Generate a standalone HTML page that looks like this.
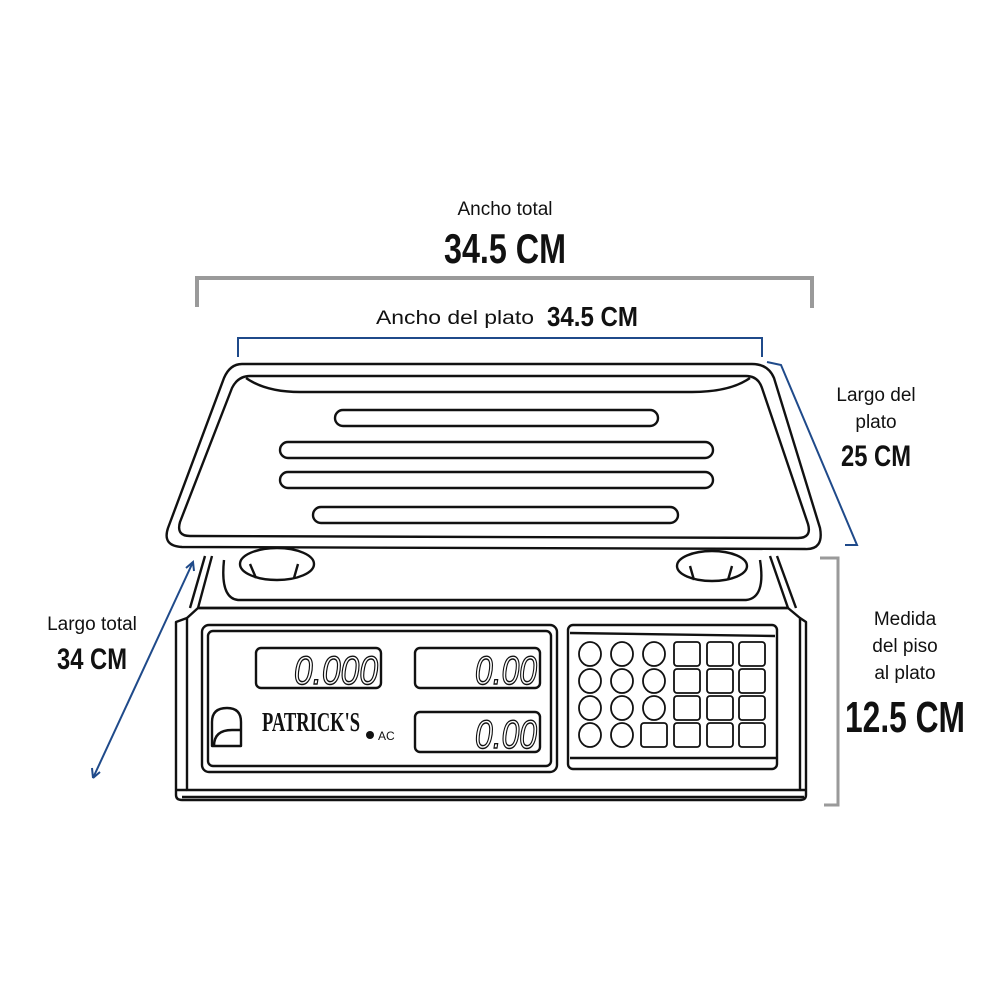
<!DOCTYPE html>
<html><head><meta charset="utf-8"><style>
html,body{margin:0;padding:0;background:#fff;width:1000px;height:1000px;overflow:hidden}
svg{display:block}
.t{font-family:"Liberation Sans",sans-serif;fill:#111}
.b{font-family:"Liberation Sans Narrow","Liberation Sans",sans-serif;font-weight:bold;fill:#111}
.lcd{font-family:"Liberation Sans Narrow","Liberation Sans",sans-serif;font-style:italic;fill:none;stroke:#111;stroke-width:1.4}
</style></head><body>
<svg width="1000" height="1000" viewBox="0 0 1000 1000" xmlns="http://www.w3.org/2000/svg">
<g fill="none" stroke="#111" stroke-width="2.4" stroke-linejoin="round">
<path d="M212,556 L198,608 L788,608 L770,556"/>
<path d="M205,556 L190,608"/>
<path d="M777,556 L796,608"/>
<path d="M224,560 Q220,598 238,600 L746,600 Q766,598 760,560"/>
<ellipse cx="277" cy="564" rx="37" ry="16"/>
<path d="M250,564 L256,578 M298,564 L294,578"/>
<ellipse cx="712" cy="566" rx="35" ry="15"/>
<path d="M690,566 L694,580 M732,566 L728,580"/>
<path d="M198,608 L187,618 L187,790 L800,790 L800,618 L788,608 Z"/>
<path d="M187,618 L176,622 L176,795 Q176,800 182,800 L800,800 Q806,800 806,795 L806,622 L800,618"/>
<path d="M176,790 L187,790 M800,790 L806,790"/>
<path d="M182,797 L804,797"/>
<rect x="202" y="625" width="355" height="147" rx="7"/>
<rect x="208" y="631" width="343" height="135" rx="5"/>
<rect x="256" y="648" width="125" height="40" rx="5"/>
<rect x="415" y="648" width="125" height="40" rx="5"/>
<rect x="415" y="712" width="125" height="40" rx="5"/>
<path d="M212,746 L212,722 Q212,708 227,708 Q241,708 241,722 L241,746 Z"/>
<path d="M214,746 Q214,730 232,730 L241,730"/>
<rect x="568" y="625" width="209" height="144" rx="5"/>
<path d="M570,633 L775,636 M570,758 L777,758"/>
<g stroke-width="1.8">
<ellipse cx="590" cy="654" rx="11" ry="12"/><ellipse cx="622" cy="654" rx="11" ry="12"/><ellipse cx="654" cy="654" rx="11" ry="12"/>
<ellipse cx="590" cy="681" rx="11" ry="12"/><ellipse cx="622" cy="681" rx="11" ry="12"/><ellipse cx="654" cy="681" rx="11" ry="12"/>
<ellipse cx="590" cy="708" rx="11" ry="12"/><ellipse cx="622" cy="708" rx="11" ry="12"/><ellipse cx="654" cy="708" rx="11" ry="12"/>
<ellipse cx="590" cy="735" rx="11" ry="12"/><ellipse cx="622" cy="735" rx="11" ry="12"/>
<rect x="674" y="642" width="26" height="24" rx="3"/><rect x="707" y="642" width="26" height="24" rx="3"/><rect x="739" y="642" width="26" height="24" rx="3"/>
<rect x="674" y="669" width="26" height="24" rx="3"/><rect x="707" y="669" width="26" height="24" rx="3"/><rect x="739" y="669" width="26" height="24" rx="3"/>
<rect x="674" y="696" width="26" height="24" rx="3"/><rect x="707" y="696" width="26" height="24" rx="3"/><rect x="739" y="696" width="26" height="24" rx="3"/>
<rect x="641" y="723" width="26" height="24" rx="3"/><rect x="674" y="723" width="26" height="24" rx="3"/><rect x="707" y="723" width="26" height="24" rx="3"/><rect x="739" y="723" width="26" height="24" rx="3"/>
</g>
<path d="M242,364 L752,364 Q768,364 774,378 L820,528 Q824,550 805,549 L182,547 Q162,546 168,528 L224,378 Q230,364 242,364 Z" fill="#fff"/>
<path d="M250,376 L746,376 Q758,376 762,388 L808,524 Q812,538 798,538 L190,536 Q176,536 180,522 L232,388 Q238,376 250,376 Z"/>
<path d="M246,378 Q266,392 300,392 L692,392 Q730,392 750,378"/>
<rect x="335" y="410" width="323" height="16" rx="8"/>
<rect x="280" y="442" width="433" height="16" rx="8"/>
<rect x="280" y="472" width="433" height="16" rx="8"/>
<rect x="313" y="507" width="365" height="16" rx="8"/>
</g>
<text class="lcd" x="378" y="684" font-size="40" text-anchor="end" textLength="84" lengthAdjust="spacingAndGlyphs">0.000</text>
<text class="lcd" x="537" y="684" font-size="40" text-anchor="end" textLength="62" lengthAdjust="spacingAndGlyphs">0.00</text>
<text class="lcd" x="537" y="748" font-size="40" text-anchor="end" textLength="62" lengthAdjust="spacingAndGlyphs">0.00</text>
<text x="262" y="731" font-family="Liberation Serif,serif" font-weight="bold" font-size="27" textLength="98" lengthAdjust="spacingAndGlyphs" fill="#111">PATRICK'S</text>
<circle cx="370" cy="735" r="4" fill="#111"/>
<text class="t" x="378" y="740" font-size="12">AC</text>
<path d="M197,307 L197,278 L812,278 L812,308" fill="none" stroke="#9a9a9a" stroke-width="4"/>
<path d="M820,558 L838,558 L838,805 L824,805" fill="none" stroke="#9a9a9a" stroke-width="3"/>
<g stroke="#1f4a8a" stroke-width="2" fill="none">
<path d="M238,357 L238,338 L762,338 L762,357"/>
<path d="M767,362 L781,365 L857,545 L845,545"/>
<path d="M193,562 L93,778"/>
<path d="M186,568 L193,562 L194,571 M93,778 L92,768 M93,778 L100,772"/>
</g>
<text class="t" x="505" y="215" font-size="19" text-anchor="middle">Ancho total</text>
<text class="b" x="505" y="263" font-size="42" text-anchor="middle" textLength="122" lengthAdjust="spacingAndGlyphs">34.5 CM</text>
<text class="t" x="376" y="324" font-size="19" textLength="158" lengthAdjust="spacingAndGlyphs">Ancho del plato</text>
<text class="b" x="547" y="326" font-size="28" textLength="91" lengthAdjust="spacingAndGlyphs">34.5 CM</text>
<text class="t" x="876" y="401" font-size="19" text-anchor="middle">Largo del</text>
<text class="t" x="876" y="428" font-size="19" text-anchor="middle">plato</text>
<text class="b" x="876" y="466" font-size="30" text-anchor="middle" textLength="70" lengthAdjust="spacingAndGlyphs">25 CM</text>
<text class="t" x="92" y="630" font-size="19" text-anchor="middle">Largo total</text>
<text class="b" x="92" y="669" font-size="30" text-anchor="middle" textLength="70" lengthAdjust="spacingAndGlyphs">34 CM</text>
<text class="t" x="905" y="625" font-size="19" text-anchor="middle">Medida</text>
<text class="t" x="905" y="652" font-size="19" text-anchor="middle">del piso</text>
<text class="t" x="905" y="679" font-size="19" text-anchor="middle">al plato</text>
<text class="b" x="905" y="732" font-size="44" text-anchor="middle" textLength="120" lengthAdjust="spacingAndGlyphs">12.5 CM</text>
</svg>
</body></html>
